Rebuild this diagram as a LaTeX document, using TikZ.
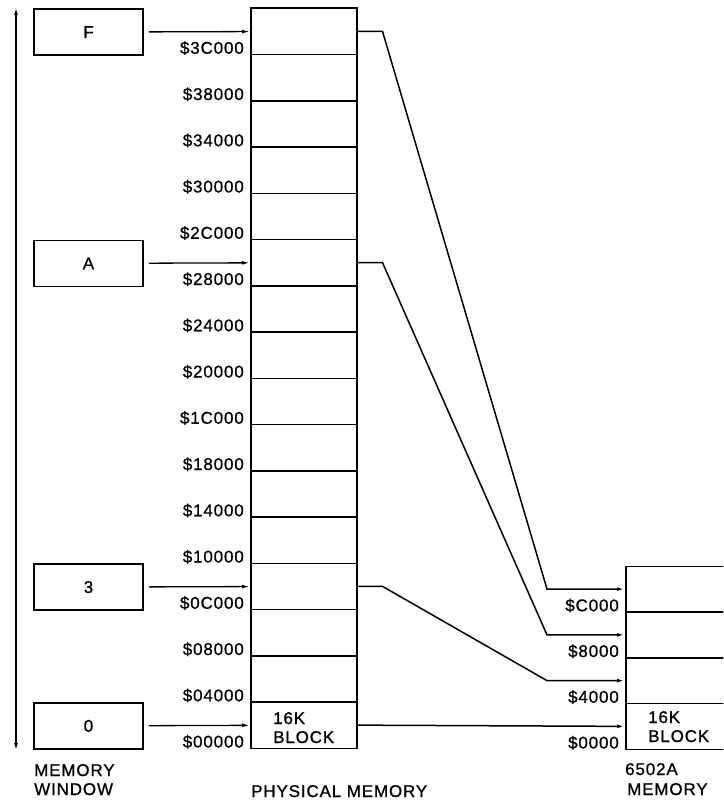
\documentclass[tikz,border=0pt]{standalone}
\usepackage{fontspec}
\setmainfont{Liberation Sans}
\newfontfamily\lab[LetterSpace=5,FakeBold=0.8]{Liberation Sans}
\usetikzlibrary{arrows.meta}
\begin{document}
\begin{tikzpicture}[x=1pt,y=-1pt,
  every node/.style={font=\lab\fontsize{17}{20}\selectfont,inner sep=0pt},
  blk/.style={draw,line width=1.5pt,rectangle,minimum width=106pt,minimum height=46.25pt,anchor=south west},
  mblk/.style={draw,line width=1.5pt,rectangle,minimum width=130pt,minimum height=45.75pt,anchor=south west},
  wbox/.style={draw,line width=1.5pt,rectangle,minimum width=109pt,minimum height=46.25pt},
  addr/.style={anchor=base east},
  txt/.style={anchor=base west},
  arr/.style={line width=1.3pt,-{Latex[length=8pt,width=3.8pt]}},
  conn/.style={line width=1.5pt,-{Latex[length=8pt,width=3.8pt]}}
]
\clip (0,0) rectangle (723,800);
\fill[white] (0,0) rectangle (723,800);

% physical memory blocks
\foreach \k/\h in {0/00000,1/04000,2/08000,3/0C000,4/10000,5/14000,6/18000,7/1C000,8/20000,9/24000,10/28000,11/2C000,12/30000,13/34000,14/38000,15/3C000}{
  \node[blk] (p\k) at (250,{749-46.25*\k}) {};
  \node[addr] (pa\k) at (244,{747.5-46.25*\k}) {\$\h};
}
\node[txt] (p16k) at (273,724) {16K};
\node[txt] (pblock) at (273,743) {BLOCK};

% 6502A memory blocks
\foreach \k/\h in {0/0000,1/4000,2/8000,3/C000}{
  \node[mblk] (m\k) at (625,{750-45.75*\k}) {};
  \node[addr] (ma\k) at (619,{748.5-45.75*\k}) {\$\h};
}
\node[txt] (m16k) at (648,723) {16K};
\node[txt] (mblock) at (648,742) {BLOCK};

% memory window boxes
\node[wbox] (wF) at (88.5,32.1) {F};
\node[wbox] (wA) at (88.5,263.4) {A};
\node[wbox] (w3) at (88.5,587.1) {3};
\node[wbox] (w0) at (88.5,725.9) {0};

\draw[arr,shorten <=5pt] (wF) -- (p15);
\draw[arr,shorten <=5pt] (wA) -- (p10);
\draw[arr,shorten <=5pt] (w3) -- (p3);
\draw[arr,shorten <=5pt] (w0) -- (p0);

% window range arrow
\coordinate (rtop) at (16,8);
\coordinate (rbot) at (16,750);
\draw[line width=1.2pt,{Latex[length=7pt,width=4pt]}-{Latex[length=7pt,width=4pt]}] (rtop) -- (rbot);

% mapping connectors
\draw[conn] (p15.east) -- ++(25,0) -- ([xshift=-78pt]m3.west) -- (m3.west);
\draw[conn] (p10.east) -- ++(25,0) -- ([xshift=-78pt]m2.west) -- (m2.west);
\draw[conn] (p3.east) -- ++(25,0) -- ([xshift=-78pt]m1.west) -- (m1.west);
\draw[conn] (p0.east) -- (m0.west);

% captions
\node[txt] (cw1) at (34,776) {MEMORY};
\node[txt] (cw2) at (34,795) {WINDOW};
\node[txt] (cp) at (251,797) {PHYSICAL MEMORY};
\node[txt] (cm1) at (625,775) {6502A};
\node[txt] (cm2) at (627,795) {MEMORY};
\end{tikzpicture}
\end{document}
